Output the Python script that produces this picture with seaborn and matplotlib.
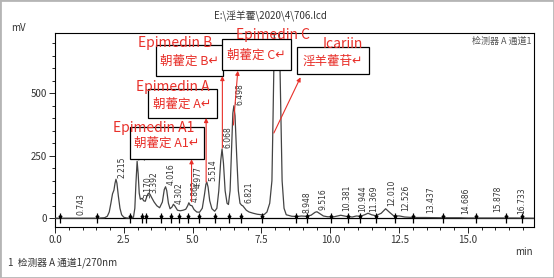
import numpy as np
import pandas as pd
import matplotlib.pyplot as plt
import seaborn as sns
from matplotlib.patches import Rectangle

# trace (min, mV)
time_min = [0.0, 0.5, 1.0, 1.5, 1.8, 1.9, 1.97, 2.03, 2.09, 2.14, 2.18, 2.215, 2.25, 2.30,
            2.36, 2.42, 2.5, 2.6, 2.75, 2.85, 2.90, 2.94, 2.983, 3.02, 3.06, 3.10, 3.17,
            3.22, 3.28, 3.34, 3.392, 3.45, 3.5, 3.6, 3.7, 3.8, 3.9, 3.97, 4.016, 4.06,
            4.12, 4.18, 4.25, 4.302, 4.36, 4.45, 4.55, 4.65, 4.75, 4.82, 4.862, 4.91,
            4.977, 5.05, 5.15, 5.25, 5.35, 5.43, 5.48, 5.514, 5.56, 5.62, 5.70, 5.80,
            5.88, 5.95, 6.02, 6.068, 6.12, 6.18, 6.25, 6.30, 6.36, 6.42, 6.46, 6.498,
            6.54, 6.60, 6.66, 6.72, 6.78, 6.821, 6.88, 6.95, 7.05, 7.2, 7.35, 7.5, 7.6,
            7.7, 7.8, 7.88, 7.92, 7.97, 8.06, 8.15, 8.25, 8.32, 8.4, 8.6, 8.8, 8.948,
            9.1, 9.3, 9.45, 9.516, 9.6, 9.75, 9.9, 10.1, 10.381, 10.6, 10.8, 10.944,
            11.1, 11.25, 11.369, 11.5, 11.65, 11.85, 12.010, 12.15, 12.3, 12.526, 12.7,
            13.0, 13.437, 14.0, 14.686, 15.0, 15.878, 16.733, 17.4]
signal_mv = [0, 0, 0, 0, 2, 8, 25, 60, 98, 112, 140, 156, 140, 90,
             40, 14, 4, 1, 0, 4, 40, 140, 228, 180, 100, 76, 80,
             70, 68, 88, 100, 96, 85, 65, 50, 42, 65, 115, 126, 110,
             60, 38, 45, 56, 48, 32, 30, 32, 36, 50, 62, 52,
             50, 35, 25, 24, 40, 95, 135, 145, 125, 70, 38, 28,
             40, 110, 230, 277, 220, 110, 60, 55, 110, 300, 420, 450,
             410, 250, 110, 60, 52, 50, 42, 32, 25, 20, 16, 14, 15,
             25, 60, 150, 400, 740, 2500, 740, 150, 40, 14, 8, 7, 9,
             8, 12, 24, 26, 20, 9, 6, 5, 12, 7, 5, 9,
             8, 14, 20, 14, 10, 20, 38, 24, 10, 9, 5,
             3, 3, 2, 2, 1, 1, 1, 0]

# peak retention times and height where each label sits
peak_rt = [0.743, 2.215, 2.983, 3.170, 3.392, 4.016, 4.302, 4.862, 4.977, 5.514,
           6.068, 6.498, 6.821, 8.948, 9.516, 10.381, 10.944, 11.369, 12.010,
           12.526, 13.437, 14.686, 15.878, 16.733]
label_mv = [12, 160, 232, 80, 100, 132, 58, 66, 122, 148,
            280, 452, 60, 20, 32, 28, 26, 26, 50,
            28, 20, 18, 24, 18]

# integration boundaries
marker_rt = [0.18, 1.54, 2.72, 3.17, 3.29, 3.85, 4.21, 4.51, 4.84, 5.24, 5.81, 6.32,
             6.77, 7.53, 8.75, 9.14, 10.01, 10.64, 11.08, 11.66, 12.36, 13.01, 14.10,
             15.28, 16.37, 16.97]

names_en = ['Epimedin A1', 'Epimedin A', 'Epimedin B', 'Epimedin C', 'Icariin']
names_cn = ['朝藿定 A1↵', '朝藿定 A↵', '朝藿定 B↵', '朝藿定 C↵', '淫羊藿苷↵']

sns.set_theme(style='white')
plt.rcParams['font.family'] = ['Noto Sans CJK SC', 'DejaVu Sans']

fig = plt.figure(figsize=(5.54, 2.78), dpi=100)
ax = fig.add_axes([55 / 554, 1 - 227 / 278, 479 / 554, 193.7 / 278])

df = pd.DataFrame({'t': time_min, 'mv': signal_mv})
ax.axhline(0, color='black', lw=0.9, zorder=2)
sns.lineplot(data=df, x='t', y='mv', ax=ax, color='#444444', lw=0.9, zorder=3)

ax.plot(marker_rt, [0] * len(marker_rt), ls='none', marker='|', ms=7, mew=0.9, color='black', zorder=3)
ax.plot(marker_rt, [4] * len(marker_rt), ls='none', marker='v', ms=2, color='black', zorder=3)

for rt, mv in zip(peak_rt, label_mv):
    ax.annotate(f'{rt:.3f}', xy=(rt, mv), xytext=(4.3, 0), textcoords='offset points',
                rotation=90, ha='center', va='bottom', fontsize=5.5, color='#333333',
                family='DejaVu Sans', zorder=3)

ax.set_xlim(0, 17.4)
ax.set_ylim(-35, 740)
ax.set_xticks([0, 2.5, 5, 7.5, 10, 12.5, 15])
ax.set_xticklabels(['0.0', '2.5', '5.0', '7.5', '10.0', '12.5', '15.0'])
ax.set_xticks(np.arange(0, 17.5, 0.5), minor=True)
ax.set_yticks([0, 250, 500])
ax.set_yticks(np.arange(0, 740, 50), minor=True)
ax.tick_params(which='both', direction='out', colors='black', labelcolor='#333333',
               labelsize=7, width=0.6, bottom=True, left=True)
ax.tick_params(which='major', length=4, pad=2)
ax.tick_params(which='minor', length=2.5)
for s in ax.spines.values():
    s.set_color('black')
    s.set_linewidth(0.8)
ax.set_xlabel('')
ax.set_ylabel('')

red = '#e8302a'
boxes = [(2.72, 236, 2.69, 130), (3.38, 401, 2.50, 117), (3.66, 569, 2.44, 124),
         (6.08, 593, 2.48, 124), (8.80, 577, 2.61, 107)]
cn_pos = [(4.07, 301), (4.63, 457), (4.87, 629), (7.30, 653), (10.10, 629)]
en_pos = [(3.60, 361), (4.29, 525), (4.36, 701), (7.92, 733), (10.46, 697)]
arrows = [((4.96, 66), (4.96, 236)), ((5.49, 145), (5.49, 401)), ((6.08, 281), (6.08, 569)),
          ((6.48, 373), (6.64, 590)), ((7.95, 341), (8.92, 564))]

for (x0, y0, w, h), cp, ep, en, cn in zip(boxes, cn_pos, en_pos, names_en, names_cn):
    ax.add_patch(Rectangle((x0, y0), w, h, facecolor='white', edgecolor='black', lw=0.9,
                           zorder=4, clip_on=False))
    ax.text(*cp, cn, color=red, fontsize=9, ha='center', va='center', zorder=5)
    ax.text(*ep, en, color=red, fontsize=10, ha='center', va='center', zorder=5, clip_on=False)

for tail, head in arrows:
    ax.annotate('', xy=head, xytext=tail,
                arrowprops=dict(arrowstyle='-|>', color=red, lw=0.8, mutation_scale=6,
                                shrinkA=0, shrinkB=0), zorder=5)

ax.text(0.995, 0.985, '检测器 A 通道1', transform=ax.transAxes, ha='right', va='top',
        fontsize=6.5, color='#555555')
fig.text(270 / 554, 1 - 16 / 278, 'E:\\淫羊藿\\2020\\4\\706.lcd', ha='center', va='center',
         fontsize=7, color='#333333')
fig.text(18 / 554, 1 - 28 / 278, 'mV', ha='center', va='center', fontsize=7, color='#333333')
fig.text(524 / 554, 1 - 252 / 278, 'min', ha='center', va='center', fontsize=7, color='#333333')
fig.text(8 / 554, 1 - 263 / 278, '1  检测器 A 通道1/270nm', ha='left', va='center',
         fontsize=7, color='#333333')
fig.patches.append(Rectangle((0, 0), 1, 1, transform=fig.transFigure, fill=False,
                             edgecolor='#b5b5b5', lw=2))

fig.savefig('out.png', dpi=100)
